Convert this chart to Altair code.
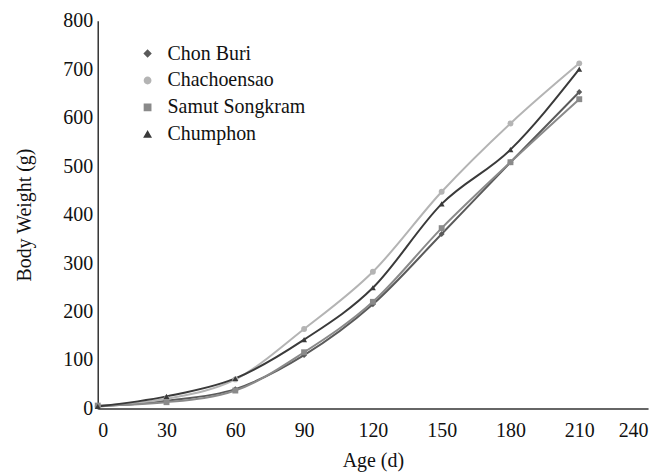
import altair as alt
import pandas as pd

days = [0, 30, 60, 90, 120, 150, 180, 210]
chon_buri = [4, 16, 40, 110, 215, 360, 508, 653]
chachoensao = [5, 20, 60, 164, 282, 447, 588, 712]
samut_songkram = [6, 13, 37, 116, 220, 372, 508, 638]
chumphon = [4, 25, 62, 142, 249, 422, 534, 700]

series_names = ["Chon Buri", "Chachoensao", "Samut Songkram", "Chumphon"]
series_values = [chon_buri, chachoensao, samut_songkram, chumphon]
colors = ["#5a5a5a", "#b4b4b4", "#8a8a8a", "#3a3a3a"]
shapes = ["diamond", "circle", "square", "triangle-up"]

rows = []
for name, vals in zip(series_names, series_values):
    for d, v in zip(days, vals):
        rows.append({"Age": d, "Weight": v, "Site": name})
df = pd.DataFrame(rows)

font = "Liberation Serif"

x = alt.X("Age:Q", scale=alt.Scale(domain=[0, 240], nice=False),
          axis=alt.Axis(values=list(range(0, 241, 30)), title="Age (d)", grid=False,
                        ticks=False, labelPadding=12, titlePadding=10,
                        domainColor="#333333", domainWidth=1.5))
y = alt.Y("Weight:Q", scale=alt.Scale(domain=[0, 800], nice=False),
          axis=alt.Axis(values=list(range(0, 801, 100)), title="Body Weight (g)", grid=False,
                        ticks=False, labelPadding=5, titlePadding=28,
                        domainColor="#333333", domainWidth=1.5))

legend = alt.Legend(title=None, orient="none", legendX=40, legendY=23,
                    labelFontSize=20, labelFont=font, labelColor="#111111",
                    symbolSize=40, rowPadding=7, labelOffset=10)
color = alt.Color("Site:N", scale=alt.Scale(domain=series_names, range=colors),
                  legend=legend, sort=series_names)
shape = alt.Shape("Site:N", scale=alt.Scale(domain=series_names, range=shapes),
                  legend=legend, sort=series_names)

lines = alt.Chart(df).mark_line(interpolate="monotone", strokeWidth=2).encode(
    x=x, y=y, color=color, detail="Site:N")
points = alt.Chart(df).mark_point(filled=True, size=35, opacity=1).encode(
    x=x, y=y, color=color, shape=shape)

chart = (lines + points).properties(
    width=552, height=389,
    autosize=alt.AutoSizeParams(type="none"),
    padding={"left": 90, "top": 12, "right": 15, "bottom": 64},
).configure_view(stroke=None).configure_axis(
    labelFont=font, titleFont=font, labelFontSize=20, titleFontSize=20,
    labelColor="#111111", titleColor="#111111", titleFontWeight="normal"
)

chart.save("out.html", embed_options={"renderer": "svg", "actions": False})
